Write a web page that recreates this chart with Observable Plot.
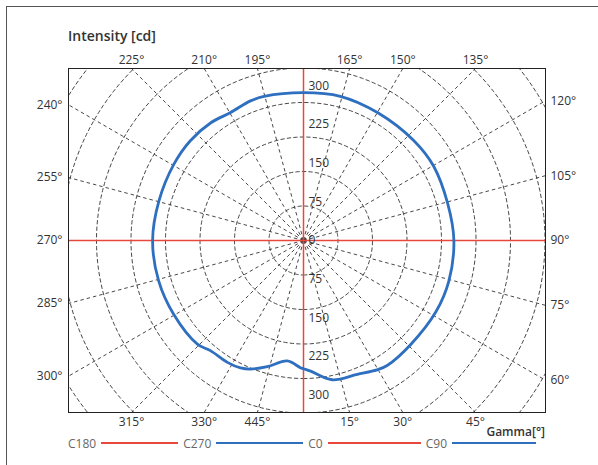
<!DOCTYPE html>
<html><head><meta charset="utf-8">
<script src="https://cdn.jsdelivr.net/npm/d3@7"></script>
<script src="https://cdn.jsdelivr.net/npm/@observablehq/plot@0.6"></script>
<style>
body{margin:0;width:598px;height:465px;overflow:hidden;background:#fff;font-family:"Open Sans",sans-serif;position:relative}
#box{position:absolute;left:6px;top:6px;width:700px;height:600px;border:1px solid #555}
#title{position:absolute;left:68px;top:26px;font-size:14px;line-height:20px;font-weight:600;color:#333}
#chart{position:absolute;left:0;top:0}
#gamma{position:absolute;right:53px;top:424px;font-size:12px;line-height:16px;font-weight:600;color:#333}
#legend{position:absolute;left:68px;top:435px;height:16px;display:flex;align-items:center;font-size:12px;color:#666}
#legend .ln{height:2px;margin:0 5px}
</style></head><body>
<div id="box"></div>
<div id="title">Intensity [cd]</div>
<div id="chart"></div>
<div id="gamma">Gamma[°]</div>
<div id="legend"></div>
<script>
// ---- data ----
const curveAngles = [0, 3.1, 11.6, 21.9, 29.6, 33.8, 45.9, 61.7, 74.5, 90, 104.3, 119.8, 132.1, 149.8, 165.7, 180, 195.3, 200.8, 209.7, 218.2, 228.6, 239.5, 254.6, 270, 285.5, 299.6, 314.3, 319.8, 328, 333.7, 337.6, 344, 352.3, 358.6];
const curveIntensity = [249, 254, 276, 280, 289, 292, 290, 292, 293, 292, 289, 291, 289, 287, 289, 287, 290, 290, 286, 291, 293, 292, 291, 293, 292, 290, 288, 280, 279, 276, 270, 255, 236, 247];
const ringValues = [67, 134, 201, 268, 335, 402, 469, 536];
const spokeAngles = [15, 30, 45, 60, 75, 105, 120, 135, 150, 165, 195, 210, 225, 240, 255, 285, 300, 315, 330, 345];
const angleTickValues = [225, 210, 195, 165, 150, 135, 240, 255, 270, 285, 300, 120, 105, 90, 75, 60, 315, 330, 345, 15, 30, 45];
const angleTickLabels = ["225°", "210°", "195°", "165°", "150°", "135°", "240°", "255°", "270°", "285°", "300°", "120°", "105°", "90°", "75°", "60°", "315°", "330°", "445°", "15°", "30°", "45°"];
const radialTickValues = [0, 75, 150, 225, 300];
const legendNames = ["C180", "C270", "C0", "C90"];
const legendColors = ["#e8483c", "#2f6fbf", "#e8483c", "#2f6fbf"];
const legendLineWidths = [77, 87, 93, 84];

// ---- layout ----
const W = 598, H = 465, mL = 68, mR = 53, mT = 68, mB = 53;
const cx = 303, cy = 240, k = 0.515; // px per cd
const xDom = [-(cx - mL) / k, (W - mR - cx) / k];
const yDom = [-(H - mB - cy) / k, (cy - mT) / k];
const rad = d => d * Math.PI / 180;
const red = "#e8483c", blue = "#2f6fbf";

const curve = curveAngles.map((a, i) => ({a, v: curveIntensity[i]}));
const ringPts = ringValues.flatMap(v => d3.range(0, 361, 2).map(a => ({ring: v, x: v * Math.sin(rad(a)), y: -v * Math.cos(rad(a))})));

const ticks = angleTickValues.map((a, i) => {
  const dx = Math.sin(rad(a)), dy = -Math.cos(rad(a));
  const tx = dx > 1e-9 ? xDom[1] / dx : dx < -1e-9 ? xDom[0] / dx : Infinity;
  const ty = dy > 1e-9 ? yDom[1] / dy : dy < -1e-9 ? yDom[0] / dy : Infinity;
  const t = Math.min(tx, ty);
  let side;
  if (tx < ty) side = dx > 0 ? "right" : "left"; else side = dy > 0 ? "top" : "bottom";
  return {x: dx * t, y: dy * t, side, label: angleTickLabels[i]};
});
const side = s => ticks.filter(d => d.side === s);
const radialLabels = radialTickValues.flatMap(v => v === 0 ? [{y: 0, t: "0"}] : [{y: v, t: String(v)}, {y: -v, t: String(v)}]);

const chart = Plot.plot({
  width: W, height: H,
  marginLeft: mL, marginRight: mR, marginTop: mT, marginBottom: mB,
  x: {domain: xDom, axis: null},
  y: {domain: yDom, axis: null},
  style: {fontFamily: "'Open Sans', sans-serif", fontSize: "12px", color: "#333", background: "transparent"},
  marks: [
    Plot.line(ringPts, {x: "x", y: "y", z: "ring", stroke: "#333", strokeWidth: 0.9, strokeDasharray: "3.5,3", clip: true}),
    Plot.link(spokeAngles, {x1: () => 0, y1: () => 0, x2: a => 1200 * Math.sin(rad(a)), y2: a => -1200 * Math.cos(rad(a)), stroke: "#333", strokeWidth: 0.9, strokeDasharray: "3.5,3", clip: true}),
    Plot.ruleX([0], {stroke: red, strokeWidth: 1.5}),
    Plot.ruleY([0], {stroke: red, strokeWidth: 1.5}),
    Plot.line(curve, {x: d => d.v * Math.sin(rad(d.a)), y: d => -d.v * Math.cos(rad(d.a)), stroke: blue, strokeWidth: 2.8, curve: "catmull-rom-closed"}),
    Plot.frame({stroke: "#222", strokeWidth: 1}),
    Plot.text(radialLabels, {x: () => 0, y: "y", text: "t", dx: 5, textAnchor: "start", fill: "#333"}),
    Plot.text(side("top"), {x: "x", y: "y", text: "label", dy: -8, fill: "#333"}),
    Plot.text(side("bottom"), {x: "x", y: "y", text: "label", dy: 10, fill: "#333"}),
    Plot.text(side("left"), {x: "x", y: "y", text: "label", dx: -6, textAnchor: "end", fill: "#333"}),
    Plot.text(side("right"), {x: "x", y: "y", text: "label", dx: 5, textAnchor: "start", fill: "#333"})
  ]
});
document.getElementById("chart").append(chart);

const leg = document.getElementById("legend");
legendNames.forEach((n, i) => {
  const s = document.createElement("span"); s.textContent = n; leg.append(s);
  const l = document.createElement("span"); l.className = "ln";
  l.style.width = legendLineWidths[i] + "px"; l.style.background = legendColors[i]; leg.append(l);
});
</script>
</body></html>
